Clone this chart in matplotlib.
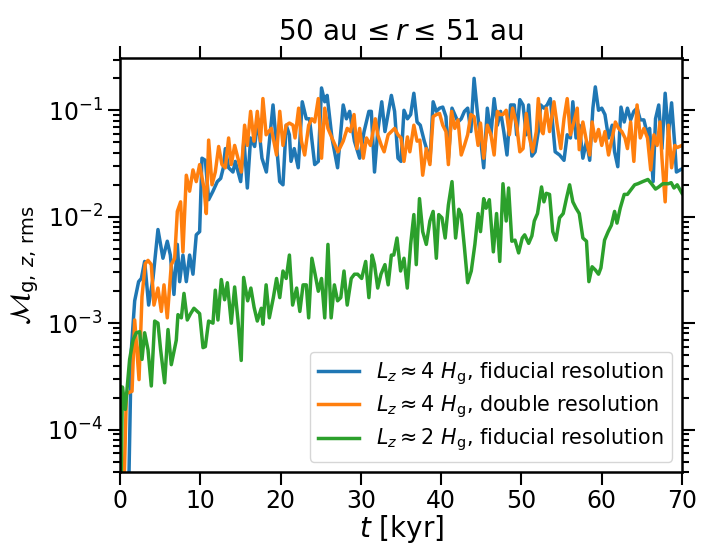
import numpy as np
import matplotlib
matplotlib.use("Agg")
import matplotlib.pyplot as plt

# Zeit in kyr und log10 der Mach-Zahl
blue_t = [0.0, 1.1, 1.41, 1.83, 2.32, 2.66, 3.07, 3.57, 4.11, 4.73, 5.35, 5.89, 6.27, 6.72,
          7.14, 7.43, 7.84, 8.26, 8.67, 9.09, 9.5, 9.92, 10.21, 10.63, 11.04, 11.58, 12.12,
          12.54, 12.87, 13.12, 13.53, 14.07, 14.36, 15.03, 15.44, 15.86, 16.27, 16.77, 17.18,
          17.68, 18.23, 19.06, 19.89, 20.3, 20.7, 21.1, 21.3, 21.7, 22.2, 22.7, 23.2, 23.6,
          24.25, 24.7, 25.1, 25.5, 25.8, 26.4, 27.1, 27.8, 28.2, 28.6, 29.2, 29.85, 30.4,
          31.0, 31.3, 31.7, 32.1, 32.6, 33.0, 33.8, 34.2, 34.62, 35.0, 35.37, 35.8, 36.2,
          36.6, 37.0, 37.4, 37.9, 38.3, 38.6, 39.0, 39.4, 39.8, 40.2, 40.6, 40.9, 41.35,
          41.7, 42.1, 42.5, 42.9, 43.3, 43.7, 44.1, 44.5, 44.9, 45.3, 45.75, 46.2, 46.6,
          47.0, 47.4, 47.8, 48.2, 48.65, 49.1, 49.4, 49.8, 50.2, 50.6, 50.9, 51.3, 51.7,
          52.1, 52.4, 52.8, 53.2, 53.6, 53.9, 54.2, 54.75, 55.3, 55.7, 56.1, 56.4, 56.8,
          57.2, 57.65, 58.1, 58.5, 58.9, 59.2, 59.6, 60.0, 60.4, 60.85, 61.3, 61.6, 62.0,
          62.4, 62.8, 63.2, 63.6, 64.0, 64.4, 64.8, 65.25, 65.7, 65.96, 66.4, 66.7, 67.1,
          67.5, 67.9, 68.3, 68.7, 69.1, 69.3, 70.0]
blue_log = [-5.0, -4.5, -3.25, -2.79, -2.61, -2.58, -2.42, -2.83, -2.58, -2.12, -2.39, -2.23,
            -2.36, -2.73, -2.26, -2.61, -2.36, -2.61, -2.36, -2.54, -2.17, -2.14, -1.45, -1.47,
            -1.84, -1.76, -1.67, -1.64, -1.54, -1.36, -1.54, -1.58, -1.48, -1.67, -1.28, -1.73,
            -1.26, -1.34, -1.08, -1.45, -1.58, -0.95, -1.67, -1.70, -1.14, -1.23, -1.48, -1.36,
            -1.54, -0.92, -1.08, -1.08, -1.51, -1.48, -0.79, -0.92, -0.86, -1.26, -1.54, -0.95,
            -1.08, -1.01, -1.29, -1.45, -1.20, -1.01, -1.01, -1.58, -1.20, -0.92, -1.20, -0.86,
            -1.01, -1.45, -1.48, -1.00, -1.08, -1.04, -0.84, -1.11, -1.14, -1.29, -1.39, -1.48,
            -0.92, -1.01, -0.98, -0.97, -1.06, -1.45, -0.98, -1.04, -1.11, -1.08, -1.01, -0.98,
            -1.20, -0.70, -1.01, -1.26, -1.54, -0.98, -1.23, -0.89, -1.14, -1.01, -1.20, -1.42,
            -0.95, -0.95, -1.23, -0.90, -0.95, -1.23, -0.95, -1.43, -1.39, -1.20, -0.95, -0.98,
            -0.95, -0.89, -1.14, -1.39, -1.42, -1.47, -1.23, -1.26, -0.92, -1.26, -1.14, -1.45,
            -1.29, -1.47, -0.98, -0.78, -1.00, -0.98, -1.04, -1.26, -1.14, -1.39, -1.53, -0.97,
            -1.11, -0.98, -1.09, -1.01, -0.98, -1.09, -1.09, -1.23, -1.17, -1.67, -1.08, -0.95,
            -1.36, -0.84, -1.23, -0.93, -1.33, -1.58, -1.55]

orange_t = [0.0, 0.55, 0.8, 1.5, 1.83, 2.1, 2.37, 2.74, 3.15, 3.49, 3.9, 4.23, 4.73, 5.15,
            5.48, 5.89, 6.39, 6.81, 7.14, 7.55, 7.84, 8.26, 8.67, 9.09, 9.5, 9.92, 10.46,
            10.75, 11.04, 11.46, 11.87, 12.29, 12.7, 13.12, 13.53, 13.86, 14.28, 14.69, 15.11,
            15.52, 15.86, 16.27, 16.69, 17.1, 17.5, 17.8, 18.2, 18.85, 19.5, 19.9, 20.3, 20.7,
            21.1, 21.55, 21.8, 22.25, 22.6, 23.0, 23.5, 23.9, 24.25, 24.7, 25.1, 25.5, 25.9,
            26.4, 27.15, 27.8, 28.3, 28.7, 29.15, 29.5, 29.85, 30.3, 30.7, 31.2, 31.8, 32.1,
            32.55, 32.9, 33.4, 34.2, 34.62, 35.0, 35.37, 35.8, 36.1, 36.6, 37.0, 37.35, 37.7,
            38.15, 38.6, 39.0, 39.4, 39.8, 40.2, 40.6, 40.9, 41.3, 41.7, 42.1, 42.5, 42.9,
            43.3, 43.7, 44.1, 44.6, 44.9, 45.3, 45.75, 46.2, 46.6, 47.0, 47.3, 47.7, 48.1,
            48.5, 48.9, 49.4, 49.8, 50.2, 50.6, 51.0, 51.4, 51.85, 52.1, 52.55, 52.7, 53.1,
            53.5, 54.05, 54.45, 54.9, 55.3, 55.7, 56.1, 56.5, 56.95, 57.2, 57.65, 58.1, 58.5,
            58.8, 59.2, 59.6, 60.0, 60.4, 60.85, 61.3, 61.7, 62.1, 62.5, 62.9, 63.2, 63.6,
            64.0, 64.4, 64.8, 65.25, 65.7, 66.1, 66.5, 66.9, 67.25, 67.5, 67.9, 68.3, 68.7,
            69.1, 69.4, 70.0]
orange_log = [-5.0, -4.4, -3.66, -3.64, -2.97, -3.25, -3.53, -2.75, -2.44, -2.41, -2.45, -2.83,
              -2.67, -2.89, -2.64, -2.95, -2.45, -2.39, -1.95, -1.86, -2.33, -1.61, -1.76, -1.56,
              -1.67, -1.51, -1.73, -1.97, -1.28, -1.70, -1.58, -1.34, -1.51, -1.54, -1.26, -1.51,
              -1.33, -1.45, -1.58, -1.14, -1.33, -1.01, -1.29, -1.01, -1.29, -0.89, -1.23, -1.17,
              -1.42, -1.01, -1.33, -1.14, -1.12, -1.14, -1.26, -0.98, -1.29, -1.42, -1.14, -1.08,
              -1.11, -0.89, -1.45, -0.98, -1.17, -1.26, -1.39, -1.29, -1.17, -1.20, -1.04, -1.36,
              -1.17, -1.45, -1.26, -1.33, -1.08, -1.23, -1.33, -1.39, -1.23, -1.17, -1.23, -1.26,
              -1.48, -1.25, -1.39, -1.14, -1.29, -1.28, -1.61, -1.36, -1.51, -1.06, -1.04, -1.03,
              -1.14, -1.20, -1.51, -1.01, -1.17, -1.09, -1.42, -1.33, -1.23, -1.04, -1.06, -1.33,
              -1.12, -1.45, -1.14, -1.23, -1.42, -1.01, -1.04, -1.04, -1.00, -1.23, -0.98, -1.14,
              -1.39, -1.36, -1.03, -1.26, -1.39, -1.20, -0.89, -1.20, -1.22, -0.98, -1.20, -0.92,
              -1.14, -1.36, -1.08, -0.89, -1.23, -1.12, -0.98, -1.37, -1.11, -1.29, -1.42, -1.11,
              -1.29, -1.18, -1.33, -1.20, -1.42, -1.26, -1.11, -1.17, -1.20, -1.26, -1.36, -1.11,
              -1.48, -0.95, -1.26, -1.17, -1.26, -1.56, -1.23, -1.33, -1.11, -1.45, -1.86, -1.14,
              -1.54, -1.33, -1.35, -1.33]

green_t = [0.0, 0.12, 0.3, 0.66, 1.2, 1.62, 2.03, 2.45, 2.74, 3.07, 3.49, 3.9, 4.32, 4.73,
           5.06, 5.56, 5.98, 6.39, 7.01, 7.22, 7.64, 7.97, 8.38, 8.8, 9.21, 9.92, 10.34, 10.63,
           11.04, 11.58, 11.87, 12.2, 12.62, 13.03, 13.37, 13.86, 14.28, 14.69, 15.1, 15.4,
           15.9, 16.3, 16.7, 17.1, 17.6, 17.8, 18.2, 18.6, 19.1, 19.5, 19.9, 20.3, 20.7, 21.1,
           21.5, 22.0, 22.4, 22.8, 23.2, 23.5, 23.9, 24.3, 24.7, 25.1, 25.5, 25.9, 26.3, 26.7,
           27.1, 27.5, 27.9, 28.3, 28.8, 29.2, 29.6, 30.1, 30.6, 31.0, 31.4, 31.7, 32.1, 32.5,
           33.0, 33.4, 33.8, 34.1, 34.5, 34.95, 35.37, 35.78, 36.2, 36.6, 36.9, 37.3, 37.7,
           38.15, 38.6, 39.0, 39.4, 39.7, 40.1, 40.5, 40.9, 41.35, 41.8, 42.2, 42.5, 42.9,
           43.3, 43.75, 44.2, 44.6, 44.9, 45.3, 45.6, 46.0, 46.5, 46.9, 47.3, 47.7, 48.1, 48.4,
           48.8, 49.2, 49.65, 50.1, 50.4, 50.9, 51.3, 51.6, 52.0, 52.5, 52.8, 53.1, 53.5, 53.9,
           54.3, 54.75, 55.2, 55.6, 56.0, 56.4, 56.8, 57.2, 57.65, 58.1, 58.4, 58.8, 59.2, 59.6,
           59.9, 60.35, 60.8, 61.2, 61.6, 61.9, 62.3, 62.8, 63.2, 63.6, 64.1, 64.5, 65.1, 65.75,
           66.2, 66.7, 67.1, 67.6, 68.3, 68.65, 69.0, 69.4, 70.0]
green_log = [-3.6, -4.6, -3.6, -3.81, -3.34, -3.16, -3.09, -3.08, -3.34, -3.09, -3.25, -3.59,
             -2.98, -3.00, -3.25, -3.56, -3.06, -3.39, -3.16, -2.92, -2.95, -2.72, -2.97, -2.91,
             -2.86, -2.91, -3.23, -3.22, -2.98, -3.00, -2.69, -2.97, -2.59, -2.78, -2.62, -3.00,
             -2.66, -2.97, -3.35, -2.57, -2.79, -2.67, -2.85, -2.98, -2.86, -3.01, -2.64, -2.95,
             -2.76, -2.58, -2.76, -2.51, -2.58, -2.36, -2.83, -2.67, -2.89, -2.64, -2.64, -2.95,
             -2.39, -2.54, -2.70, -2.58, -2.95, -2.26, -2.95, -2.64, -2.79, -2.76, -2.51, -2.83,
             -2.58, -2.54, -2.54, -2.58, -2.42, -2.76, -2.36, -2.45, -2.67, -2.54, -2.45, -2.64,
             -2.36, -2.36, -2.20, -2.51, -2.39, -2.67, -2.26, -1.98, -2.45, -1.83, -2.14, -2.26,
             -2.04, -1.95, -2.39, -1.98, -2.01, -2.20, -1.89, -1.67, -2.20, -1.93, -1.98, -2.29,
             -2.62, -2.51, -2.26, -1.97, -2.14, -1.83, -1.92, -1.84, -2.33, -1.97, -2.42, -1.69,
             -2.04, -1.73, -2.23, -2.22, -2.34, -2.20, -2.17, -2.25, -2.18, -2.04, -1.97, -1.72,
             -1.86, -1.78, -1.79, -2.14, -2.22, -2.01, -1.97, -1.83, -1.70, -1.86, -1.92, -1.97,
             -2.20, -2.23, -2.61, -2.47, -2.50, -2.54, -2.48, -2.22, -2.14, -2.08, -1.95, -2.06,
             -1.92, -1.79, -1.79, -1.75, -1.70, -1.69, -1.67, -1.65, -1.69, -1.74, -1.72, -1.69,
             -1.69, -1.68, -1.73, -1.70, -1.78]

labels = [r"$L_z \approx 4\ H_\mathrm{g}$, fiducial resolution",
          r"$L_z \approx 4\ H_\mathrm{g}$, double resolution",
          r"$L_z \approx 2\ H_\mathrm{g}$, fiducial resolution"]

fig = plt.figure(figsize=(7.1, 5.44), dpi=100)
ax = fig.add_axes([0.169, 0.1324, 0.7916, 0.761])

ax.plot(blue_t, 10 ** np.array(blue_log), color="tab:blue", lw=2.5, label=labels[0])
ax.plot(orange_t, 10 ** np.array(orange_log), color="tab:orange", lw=2.5, label=labels[1])
ax.plot(green_t, 10 ** np.array(green_log), color="tab:green", lw=2.5, label=labels[2])

ax.set_yscale("log")
ax.set_xlim(0, 70)
ax.set_ylim(4.0e-5, 0.31)

ax.set_title(r"50 au$\,\leq r \leq\,$51 au", fontsize=20, pad=13)
ax.set_xlabel(r"$t$ [kyr]", fontsize=20, labelpad=0)
ax.set_ylabel(r"$\mathcal{M}_{\mathrm{g},\,z,\,\mathrm{rms}}$", fontsize=20, labelpad=4)

ax.tick_params(which="both", direction="out", top=True, right=True, labelsize=17, width=1.5)
ax.tick_params(which="major", length=9)
ax.tick_params(which="minor", length=5)
ax.tick_params(axis="x", which="minor", top=False, bottom=False)
for sp in ax.spines.values():
    sp.set_linewidth(1.8)

ax.legend(loc="lower right", fontsize=14.9, handlelength=2.0, borderpad=0.4,
          labelspacing=0.3, handletextpad=0.8)

plt.savefig("out.png", dpi=100)
plt.close()
